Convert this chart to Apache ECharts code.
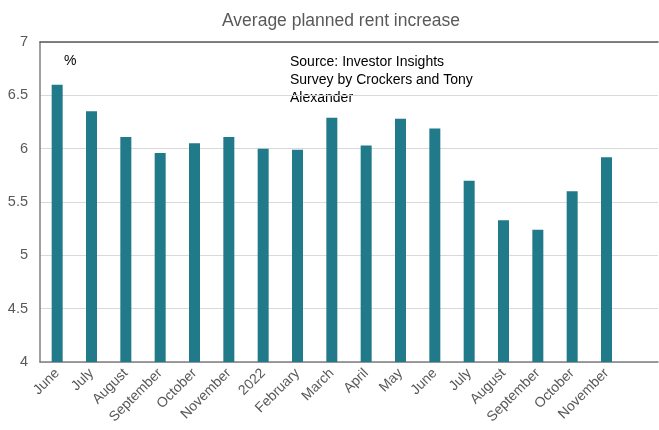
<!DOCTYPE html>
<html>
<head>
<meta charset="utf-8">
<script src="https://cdn.jsdelivr.net/npm/echarts@6/dist/echarts.min.js"></script>
<style>
  html, body { margin: 0; padding: 0; background: #ffffff; }
  #chart { width: 659px; height: 430px; }
</style>
</head>
<body>
<div id="chart"></div>
<script>
// Survey months, June 2021 to November 2022 (last slot left empty)
const months = ['June', 'July', 'August', 'September', 'October', 'November', '2022',
  'February', 'March', 'April', 'May', 'June', 'July', 'August', 'September',
  'October', 'November', ''];

// Average planned rent increase, %
const rentIncrease = [6.60, 6.35, 6.11, 5.96, 6.05, 6.11, 6.00, 5.99, 6.29, 6.03,
  6.28, 6.19, 5.70, 5.33, 5.24, 5.60, 5.92, null];

const yTicks = { min: 4, max: 7, interval: 0.5 };

const chart = echarts.init(document.getElementById('chart'), null, { renderer: 'canvas' });
const FONT = '"Liberation Sans", Arial, sans-serif';

chart.setOption({
  animation: false,
  backgroundColor: '#ffffff',
  textStyle: { fontFamily: FONT },
  title: {
    text: 'Average planned rent increase',
    left: 336,
    top: 7,
    textAlign: 'center',
    textStyle: { fontFamily: FONT, fontSize: 17.5, fontWeight: 'normal', color: '#595959' }
  },
  grid: { left: 40, right: 1, top: 42, bottom: 68 },
  xAxis: [{
    type: 'category',
    data: months,
    boundaryGap: true,
    axisLine: { show: true, lineStyle: { color: '#7f7f7f', width: 1.5 } },
    axisTick: { show: false },
    axisLabel: {
      interval: 0,
      rotate: 45,
      fontFamily: FONT,
      fontSize: 14,
      color: '#595959',
      margin: 9
    }
  }, {
    type: 'category',
    data: months,
    position: 'top',
    axisLine: { show: true, lineStyle: { color: '#595959', width: 1.5 } },
    axisTick: { show: false },
    axisLabel: { show: false }
  }],
  yAxis: {
    type: 'value',
    min: yTicks.min,
    max: yTicks.max,
    interval: yTicks.interval,
    axisLine: { show: true, lineStyle: { color: '#7f7f7f', width: 1.5 } },
    axisTick: { show: false },
    axisLabel: {
      fontFamily: FONT,
      fontSize: 14.5,
      color: '#595959',
      margin: 12,
      formatter: v => String(v)
    },
    splitLine: { show: true, lineStyle: { color: '#d9d9d9', width: 1 } }
  },
  graphic: [{
    type: 'text',
    left: 64,
    top: 54,
    style: { text: '%', fontFamily: FONT, fontSize: 14, fill: '#000000' }
  }, {
    type: 'text',
    left: 290,
    top: 53,
    style: {
      text: 'Source: Investor Insights\nSurvey by Crockers and Tony\nAlexander',
      fontFamily: FONT,
      fontSize: 14,
      lineHeight: 18,
      fill: '#000000'
    }
  }],
  series: [{
    type: 'bar',
    xAxisIndex: 0,
    data: rentIncrease,
    barWidth: 11,
    itemStyle: { color: '#217a8a' }
  }]
});
</script>
</body>
</html>
